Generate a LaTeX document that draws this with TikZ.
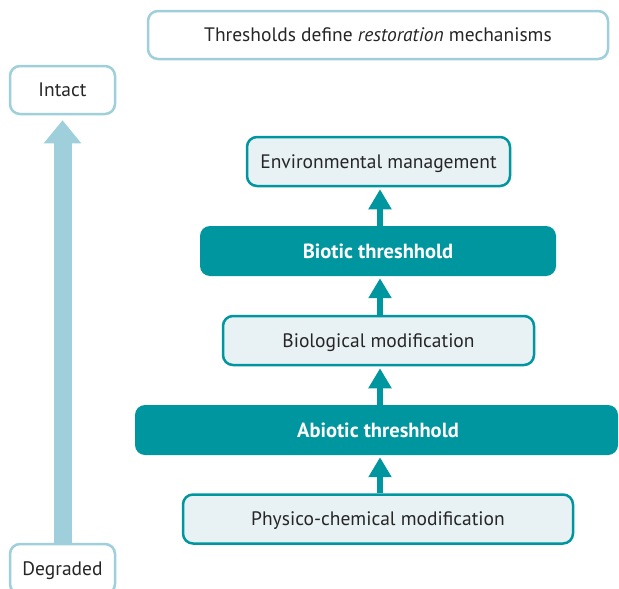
\documentclass[tikz,border=0pt]{standalone}
\usepackage{fontspec}
\setmainfont{PT Sans}
\usetikzlibrary{arrows.meta}
\definecolor{Teal}{HTML}{00969F}
\definecolor{PaleFill}{HTML}{E8F1F4}
\definecolor{SoftBlue}{HTML}{9FCFDA}
\begin{document}
\begin{tikzpicture}[x=1pt,y=-1pt,font=\fontsize{19.5}{23}\selectfont,text depth=0pt]
  \useasboundingbox (0,0) rectangle (619,589);
  \tikzset{StepStyle/.style={draw=Teal,line width=2.5pt,fill=PaleFill,rounded corners=10pt,
      minimum height=49pt,text=black!85},
    ThreshStyle/.style={fill=Teal,rounded corners=10pt,minimum height=50pt,
      text=white,font=\fontsize{20.5}{24}\selectfont\bfseries},
    ScaleStyle/.style={draw=SoftBlue,line width=2.5pt,fill=white,rounded corners=10pt,
      minimum width=105pt,minimum height=48pt,text=black!85},
    UpStyle/.style={Teal,line width=6pt,-{Triangle[width=22pt,length=20pt]},shorten >=2pt}}
  \node[ScaleStyle,minimum width=460pt] (T) at (378,35) {Thresholds define \textit{restoration} mechanisms};
  \node[ScaleStyle] (I) at (62.5,90) {Intact};
  \node[ScaleStyle,minimum height=50pt] (D) at (62.5,569) {Degraded};
  \draw[SoftBlue,line width=18pt,-{Triangle[width=36pt,length=23pt]},shorten >=5pt] (D.north) -- (I.south);
  % steps, bottom to top
  \node[StepStyle,minimum width=390pt] (P) at (378,519) {Physico-chemical modification};
  \node[ThreshStyle,minimum width=483pt] (A) at (376.5,430) {};
  \node[text=white,font=\fontsize{20.5}{24}\selectfont\bfseries] (Alab) at (378,430) {Abiotic threshhold};
  \node[StepStyle,minimum width=311pt] (B) at (378.5,340.5) {Biological modification};
  \node[ThreshStyle,minimum width=356pt] (Bt) at (378,251) {Biotic threshhold};
  \node[StepStyle,minimum width=263pt] (E) at (378.5,161.5) {Environmental management};
  \draw[UpStyle] (P.north -| 380,0) -- (A.south -| 380,0);
  \draw[UpStyle] (A.north -| 380,0) -- (B.south -| 380,0);
  \draw[UpStyle] (B.north -| 380,0) -- (Bt.south -| 380,0);
  \draw[UpStyle] (Bt.north -| 380,0) -- (E.south -| 380,0);
\end{tikzpicture}
\end{document}
